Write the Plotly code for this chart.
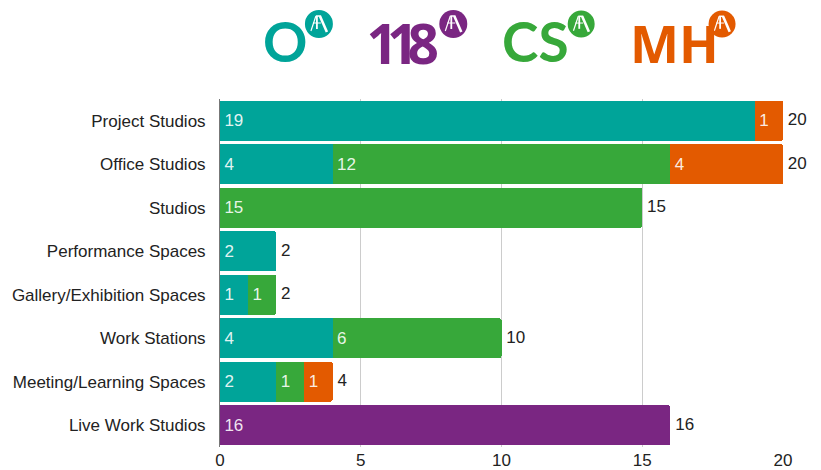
import plotly.graph_objects as go

categories = ["Project Studios", "Office Studios", "Studios", "Performance Spaces",
              "Gallery/Exhibition Spaces", "Work Stations", "Meeting/Learning Spaces", "Live Work Studios"]
o_values = [19, 4, None, 2, 1, 4, 2, None]
v118_values = [None, None, None, None, None, None, None, 16]
cs_values = [None, 12, 15, None, 1, 6, 1, None]
mh_values = [1, 4, None, None, None, None, 1, None]
totals = [20, 20, 15, 2, 2, 10, 4, 16]
tick_vals = [0, 5, 10, 15, 20]

TEAL, PURPLE, GREEN, ORANGE = "#00a499", "#7a2682", "#37a83a", "#e35a00"
PAGE_OFFSET = 8  # the page's own body margin
W, H = 821 - PAGE_OFFSET, 470 - PAGE_OFFSET
FONT = "Liberation Sans"
FS = 17

fig = go.Figure()
for name, vals, col in [("O", o_values, TEAL), ("118", v118_values, PURPLE),
                        ("CS", cs_values, GREEN), ("MH", mh_values, ORANGE)]:
    fig.add_trace(go.Bar(
        y=categories, x=vals, name=name, orientation="h", marker=dict(color=col, line=dict(width=0)),
        text=["\u200a" + str(v) if v else "" for v in vals], textposition="inside",
        insidetextanchor="start", textangle=0, constraintext="none",
        textfont=dict(color="rgba(255,255,255,0.9)", size=FS, family=FONT), hoverinfo="x+y+name"))
fig.add_trace(go.Scatter(
    y=categories, x=totals, mode="text", text=["\u2009\u200a" + str(v) for v in totals], textposition="middle right",
    textfont=dict(color="#222222", size=FS, family=FONT), cliponaxis=False, showlegend=False, hoverinfo="skip"))

L, R, T, B = 219.5 - PAGE_OFFSET, 38, 99 - PAGE_OFFSET, 23
pw, ph = W - L - R, H - T - B


def fx(x):
    return (x - PAGE_OFFSET - L) / pw


def fy(y):
    return (H + PAGE_OFFSET - B - y) / ph


shapes, annos = [], []
LOGO_TEXT = [("<b>O</b>", 284.5, 41, "Lato", 55, TEAL, None),
             ('<span style="letter-spacing:-11px"><b>118</b></span>', 402, 42, "Open Sans", 55, PURPLE, 100),
             ("<b>CS</b>", 535.5, 41, "Lato", 55, GREEN, None), ("<b>MH</b>", 674.5, 42, "Open Sans", 52, ORANGE, None)]
for label, cx, cy, fam, size, col, box in LOGO_TEXT:
    annos.append(dict(text=label, x=fx(cx), y=fy(cy), xref="paper", yref="paper", xanchor="center", width=box,
                      yanchor="middle", showarrow=False, font=dict(family=fam, size=size, color=col)))
BADGES = [(318.5, 24, 14, TEAL), (453, 24, 14, PURPLE), (581, 24, 13.5, GREEN), (722, 24, 13.5, ORANGE)]
for ix, iy, r, col in BADGES:
    shapes.append(dict(type="circle", xref="paper", yref="paper", x0=fx(ix - r), x1=fx(ix + r), y0=fy(iy + r),
                       y1=fy(iy - r), fillcolor=col, line=dict(width=0)))
    s = r / 14
    for (x0, y0, x1, y1, w) in [(-3, -8, -8, 7, 1.2), (-2, -8, -2, 5, 1.8), (1, -8, 8, 8, 2.6), (-3, -8, 2, -8, 1.5),
                                (-6, -1, 2, -1, 1)]:
        shapes.append(dict(type="line", xref="paper", yref="paper", x0=fx(ix + x0 * s), x1=fx(ix + x1 * s),
                           y0=fy(iy + y0 * s), y1=fy(iy + y1 * s), line=dict(color="white", width=w)))

fig.update_layout(
    width=W, height=H, autosize=False, barmode="stack", bargap=0.08, barcornerradius=2, showlegend=False,
    plot_bgcolor="white", paper_bgcolor="white", margin=dict(l=L, r=R, t=T, b=B, pad=0),
    font=dict(family=FONT, size=FS, color="#222222"), shapes=shapes, annotations=annos,
    xaxis=dict(range=[0, 20], tickvals=tick_vals, showgrid=True, gridcolor="#cccccc", gridwidth=1, zeroline=False,
               showline=False, tickfont=dict(size=FS, color="#222222"), ticks="", ticklabelstandoff=1,
               automargin=False),
    yaxis=dict(categoryorder="array", categoryarray=categories[::-1], showgrid=False, zeroline=False,
               showline=True, linecolor="#777777", linewidth=1, ticks="outside", ticklen=10, tickcolor="rgba(0,0,0,0)",
               tickfont=dict(size=FS, color="#222222"), automargin=False),
)
fig.write_html("out.html")
